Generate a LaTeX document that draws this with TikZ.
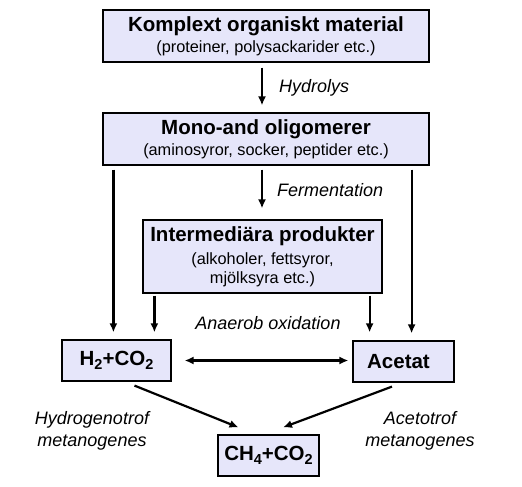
\documentclass[tikz,border=0pt]{standalone}
\usepackage{fontspec}
\setmainfont{Liberation Sans}
\usetikzlibrary{arrows.meta,shapes}
\definecolor{boxfill}{RGB}{230,230,250}
\tikzstyle{stage}=[draw=black,line width=1.2pt,fill=boxfill,align=center,inner sep=0pt,font=\fontsize{16.3}{19}\selectfont]
\tikzstyle{flow} = [draw,line width=2.2pt,-{Latex[length=9pt,width=8pt]}]
\tikzstyle{proclabel}=[font=\fontsize{18}{22}\selectfont\itshape,align=center,inner sep=0pt]
\newcommand{\titel}[1]{{\fontsize{20.5}{22}\selectfont\bfseries #1}}
\newcommand{\nedre}[1]{\raisebox{-0.35ex}{\fontsize{14.5}{14}\selectfont #1}}

\begin{document}
\begin{tikzpicture}[x=1pt,y=-1pt]
    \useasboundingbox (0,0) rectangle (522,487);
    % First we draw the boxes
    \foreach \pos/\name/\bw/\bh/\txt in {{(266,36)/komplex/326/52/{\titel{Komplext organiskt material}\\[2pt](proteiner, polysackarider etc.)}},
        {(266,139)/mono/326/52/{\titel{Mono-and oligomerer}\\[2pt](aminosyror, socker, peptider etc.)}},
        {(262.5,256.5)/inter/239/73/{\titel{Intermediära produkter}\\[4pt](alkoholer, fettsyror,\\mjölksyra etc.)}},
        {(116.5,360.5)/vaete/109/41/{\titel{H\nedre{2}+CO\nedre{2}}}},
        {(403.5,361.5)/acetat/101/41/{\titel{Acetat\hspace{10pt}}}},
        {(268.5,455.5)/metan/101/41/{\titel{CH\nedre{4}+CO\nedre{2}}}}}
        \node[stage,minimum width=\bw pt,minimum height=\bh pt] (\name) at \pos {\txt};

    % Labels of the steps
    \foreach \pos/\name/\anc/\txt in {{(279,88)/hydro/west/Hydrolys}, {(277,190)/ferm/west/Fermentation},
        {(268,323)/anox/center/Anaerob oxidation}, {(92,431)/hydrogen/center/{Hydrogenotrof\\metanogenes}},
        {(420,431)/aceto/center/{Acetotrof\\metanogenes}}}
        \node[proclabel,anchor=\anc] (\name) at \pos {\txt};

    % Connect boxes with arrows
    \path[flow,shorten <=5pt,shorten >=7pt] ([xshift=-4pt]komplex.south) -- ([xshift=-4pt]mono.north);
    \path[flow,shorten <=4pt,shorten >=11pt] ([xshift=-4pt]mono.south) -- ([xshift=-0.5pt]inter.north);
    \path[flow,shorten <=4pt,shorten >=7pt] ([xshift=11pt]mono.south west) -- ([xshift=11pt]mono.south west |- vaete.north);
    \path[flow,shorten <=4pt,shorten >=7pt] ([xshift=-18pt]mono.south east) -- ([xshift=-18pt]mono.south east |- acetat.north);
    \path[flow,shorten <=2pt,shorten >=7pt] ([xshift=12pt]inter.south west) -- ([xshift=12pt]inter.south west |- vaete.north);
    \path[flow,shorten <=2pt,shorten >=8pt] ([xshift=-13pt]inter.south east) -- ([xshift=-13pt]inter.south east |- acetat.north);
    \path[flow,{Latex[length=9pt,width=8pt]}-{Latex[length=9pt,width=8pt]},shorten <=13pt,shorten >=4pt] (vaete.east) -- (vaete.east -| acetat.west);
    \path[flow] ([shift={(18,4)}]vaete.south) -- ([shift={(-30,-7)}]metan.north);
    \path[flow] ([shift={(-11.5,4)}]acetat.south) -- ([shift={(14.5,-7)}]metan.north);
\end{tikzpicture}
\end{document}
